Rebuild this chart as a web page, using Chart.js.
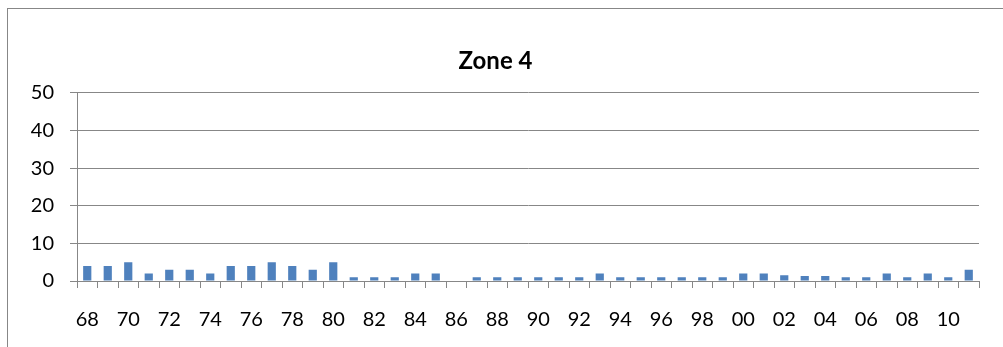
<!DOCTYPE html>
<html>
<head>
<meta charset="utf-8">
<script src="https://cdn.jsdelivr.net/npm/chart.js@4/dist/chart.umd.min.js"></script>
<style>
  html, body { margin: 0; padding: 0; background: #fff; }
  canvas { display: block; }
</style>
</head>
<body>
<canvas id="zone-chart" width="1003" height="347"></canvas>
<script>
// years 1968 - 2011, shown as two digits
let years = ['68','69','70','71','72','73','74','75','76','77','78','79','80','81','82','83','84','85','86','87',
  '88','89','90','91','92','93','94','95','96','97','98','99','00','01','02','03','04','05','06','07','08','09','10','11']
let counts = [4,4,5,2,3,3,2,4,4,5,4,3,5,1,1,1,2,2,0,1,
  1,1,1,1,1,2,1,1,1,1,1,1,2,2,1.5,1.3,1.3,1,1,2,1,2,1,3]
let yTicks = [0,10,20,30,40,50]
let chartTitle = 'Zone 4'

let fontName = 'Lato, "Open Sans", sans-serif'
let lineGray = '#878787'

// outer border of the chart object (only left/top edges are inside the picture)
let framePlugin = {
  id: 'frame',
  beforeDraw: function(chart) {
    let ctx = chart.ctx
    ctx.save()
    ctx.fillStyle = '#fff'
    ctx.fillRect(0, 0, chart.width, chart.height)
    ctx.strokeStyle = lineGray
    ctx.lineWidth = 1
    ctx.strokeRect(7.5, 8.5, 1100, 400)
    ctx.restore()
  }
}

new Chart(document.getElementById('zone-chart'), {
  type: 'bar',
  data: {
    labels: years,
    datasets: [{
      label: chartTitle,
      data: counts,
      backgroundColor: '#4F81BD',
      borderWidth: 0,
      barPercentage: 0.4,
      categoryPercentage: 1
    }]
  },
  options: {
    responsive: false,
    animation: false,
    devicePixelRatio: 1,
    layout: { padding: { left: 0, right: 12, top: 0, bottom: 0 } },
    plugins: {
      legend: { display: false },
      tooltip: { enabled: false },
      title: {
        display: true,
        text: chartTitle,
        color: '#000',
        font: { family: fontName, size: 24, weight: 'bold', lineHeight: 1.2 },
        padding: { top: 47, bottom: 17 }
      }
    },
    scales: {
      x: {
        afterFit: function(scale) { scale.height = 66 },
        grid: { offset: true, drawOnChartArea: false, tickLength: 7, color: lineGray },
        border: { color: lineGray },
        ticks: {
          autoSkip: false,
          maxRotation: 0,
          padding: 20,
          color: '#000',
          font: { family: fontName, size: 20 },
          callback: function(val, i) { return i % 2 === 0 ? years[i] : '' }
        }
      },
      y: {
        min: 0,
        max: 50,
        afterFit: function(scale) { scale.width = 77 },
        afterBuildTicks: function(scale) { scale.ticks = yTicks.map(v => ({ value: v })) },
        grid: { tickLength: 7, color: lineGray },
        border: { color: lineGray },
        ticks: {
          padding: 16,
          color: '#000',
          font: { family: fontName, size: 20 }
        }
      },
      // empty spacer on the right so the title centres like the original
      spacer: {
        position: 'right',
        display: true,
        afterFit: function(scale) { scale.width = 12 },
        grid: { display: false },
        border: { display: false },
        ticks: { display: false }
      }
    }
  },
  plugins: [framePlugin]
})
</script>
</body>
</html>
